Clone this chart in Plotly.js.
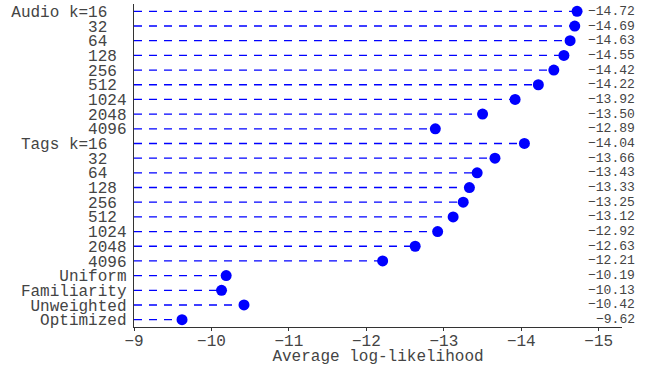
<!DOCTYPE html>
<html>
<head>
<meta charset="utf-8">
<script src="https://cdn.plot.ly/plotly-3.0.1.min.js"></script>
<style>html,body{margin:0;padding:0;background:#fff;}#chart{width:651px;height:366px;}</style>
</head>
<body>
<div id="chart"></div>
<script>
// Data
var audioK = ['16','32','64','128','256','512','1024','2048','4096'];
var audioValues = [-14.72, -14.69, -14.63, -14.55, -14.42, -14.22, -13.92, -13.50, -12.89];
var tagsK = ['16','32','64','128','256','512','1024','2048','4096'];
var tagsValues = [-14.04, -13.66, -13.43, -13.33, -13.25, -13.12, -12.92, -12.63, -12.21];
var otherNames = ['Uniform','Familiarity','Unweighted','Optimized'];
var otherValues = [-10.19, -10.13, -10.42, -9.62];
var xTicks = [-9, -10, -11, -12, -13, -14, -15];
var baseline = -9;

var NB = '\u00a0';
function padK(k){ while(k.length < 4) k += NB; return k; }

var labels = [], values = [];
audioK.forEach(function(k,i){ labels.push(i===0 ? 'Audio' + NB + 'k=' + padK(k) : padK(k)); values.push(audioValues[i]); });
tagsK.forEach(function(k,i){ labels.push(i===0 ? 'Tags' + NB + 'k=' + padK(k) : padK(k)); values.push(tagsValues[i]); });
otherNames.forEach(function(n,i){ labels.push(n); values.push(otherValues[i]); });

var idx = values.map(function(_,i){ return i; });

var lx = [], ly = [];
values.forEach(function(v,i){ lx.push(baseline, v, null); ly.push(i, i, null); });

var font = 'Liberation Mono, Courier New, monospace';

var traces = [
  {x: lx, y: ly, type: 'scatter', mode: 'lines', line: {color: '#0000ff', width: 1.3, dash: '8px,7px'}, hoverinfo: 'skip', cliponaxis: false},
  {x: values, y: idx, type: 'scatter', mode: 'markers', marker: {color: '#0000ff', size: 11}, cliponaxis: false}
];

var annotations = values.map(function(v,i){
  return {x: 1.031, xref: 'paper', y: i, yref: 'y', text: v.toFixed(2).replace('-', '\u2212'),
          showarrow: false, xanchor: 'right', yanchor: 'middle', font: {family: font, size: 13, color: '#444'}};
});

var layout = {
  width: 651, height: 366,
  margin: {l: 134, r: 29, t: 4, b: 39, pad: 0},
  paper_bgcolor: '#fff', plot_bgcolor: '#fff',
  showlegend: false,
  font: {family: font, size: 16, color: '#444'},
  xaxis: {range: [-9, -15.3], tickvals: xTicks, showgrid: false, zeroline: false,
          showline: true, linecolor: '#333', linewidth: 1.3, ticks: 'outside', ticklen: 3, tickcolor: '#333',
          ticklabelstandoff: -5,
          tickfont: {family: font, size: 16, color: '#444'},
          title: {text: 'Average log-likelihood', font: {family: font, size: 16, color: '#444'}, standoff: 2}},
  yaxis: {range: [21.5, -0.5], tickvals: idx, ticktext: labels, showgrid: false, zeroline: false,
          showline: true, linecolor: '#333', linewidth: 1.3, ticks: '', ticklabelstandoff: 3,
          tickfont: {family: font, size: 16, color: '#444'}},
  annotations: annotations
};

Plotly.newPlot('chart', traces, layout, {staticPlot: true, displayModeBar: false});
</script>
</body>
</html>
